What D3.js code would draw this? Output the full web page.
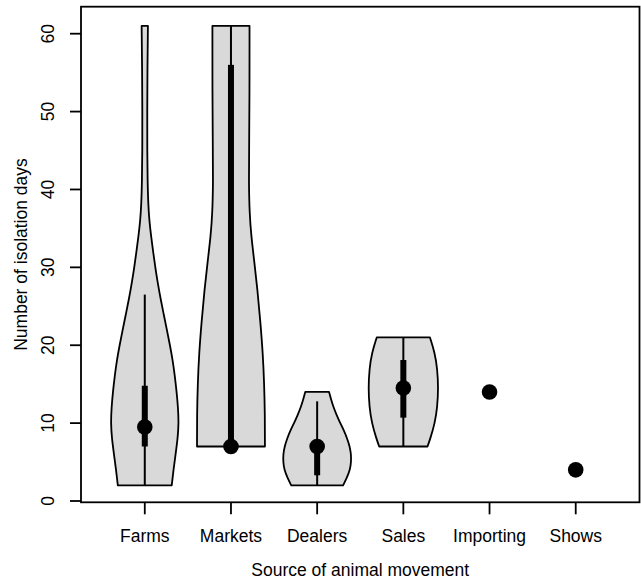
<!DOCTYPE html>
<html>
<head>
<meta charset="utf-8">
<script src="https://cdn.jsdelivr.net/npm/d3@7"></script>
<style>
  html, body { margin: 0; padding: 0; background: #fff; }
  svg text { font-family: "Liberation Sans", Arial, Helvetica, sans-serif; fill: #000; }
</style>
</head>
<body>
<svg id="chart" width="641" height="580"></svg>
<script>
// ---------------- data ----------------
const categories = ["Farms", "Markets", "Dealers", "Sales", "Importing", "Shows"];
const yTicks = [0, 10, 20, 30, 40, 50, 60];

// box-plot summaries per category (days)
const whiskerLow  = [2,    7,  2,    7,    14, 4];
const whiskerHigh = [26.5, 61, 12.8, 21,   14, 4];
const q1          = [7,    7,  3.3,  10.7, 14, 4];
const q3          = [14.8, 56, 7,    18.1, 14, 4];
const medians     = [9.5,  7,  7,    14.5, 14, 4];

// kernel density profiles (value in days, relative density 0..1)
const farmsDensity = [
  [2, 0.77], [4, 0.82], [6, 0.88], [8, 0.94], [10, 0.97], [12, 0.95], [14, 0.91],
  [16, 0.86], [18, 0.8], [20, 0.72], [22, 0.63], [24, 0.54], [26, 0.45],
  [28, 0.37], [30, 0.3], [32, 0.24], [34, 0.18], [36, 0.13], [38, 0.1],
  [41, 0.08], [45, 0.07], [50, 0.07], [55, 0.075], [61, 0.09]
];
const marketsDensity = [
  [7, 0.97], [11, 0.97], [15, 0.95], [19, 0.91], [23, 0.84], [27, 0.76],
  [31, 0.66], [34, 0.58], [37, 0.53], [41, 0.51], [46, 0.52], [52, 0.53], [61, 0.53]
];
const dealersDensity = [
  [2, 0.74], [3, 0.85], [4, 0.94], [5, 0.97], [6, 0.97], [7, 0.93], [8, 0.86], [9, 0.77],
  [10, 0.66], [11, 0.56], [12, 0.47], [13, 0.4], [14, 0.34]
];
const salesDensity = [
  [7, 0.69], [8, 0.77], [10, 0.9], [12, 0.97], [14.5, 1.0], [17, 0.97], [19, 0.9], [21, 0.76]
];
const importingDensity = [];
const showsDensity = [];
const densities = [farmsDensity, marketsDensity, dealersDensity, salesDensity, importingDensity, showsDensity];

// ---------------- layout ----------------
const svg = d3.select("#chart");
const box = { left: 81, right: 639.5, top: 6.7, bottom: 502.3 };
const fs = 17.5;

const x = d3.scaleLinear().domain([0.26, 6.74]).range([box.left, box.right]);
const y = d3.scaleLinear().domain([0, 60]).range([501, 33.7]);
const halfW = d3.scaleLinear().domain([0, 1]).range([0, 35]);

// violins
const area = d3.area().curve(d3.curveBasis);

densities.forEach((dens, i) => {
  if (!dens.length) return;
  const cx = x(i + 1);
  area.y(d => y(d[0]))
      .x0(d => cx - halfW(d[1]))
      .x1(d => cx + halfW(d[1]));
  svg.append("path")
    .attr("d", area(dens))
    .attr("fill", "#d9d9d9")
    .attr("stroke", "#000")
    .attr("stroke-width", 1.8)
    .attr("stroke-linejoin", "round");
});

// whiskers, boxes, medians
categories.forEach((c, i) => {
  const cx = x(i + 1);
  if (whiskerHigh[i] > whiskerLow[i]) {
    svg.append("line")
      .attr("x1", cx).attr("x2", cx)
      .attr("y1", y(whiskerLow[i])).attr("y2", y(whiskerHigh[i]))
      .attr("stroke", "#000").attr("stroke-width", 2);
  }
  if (q3[i] > q1[i]) {
    svg.append("rect")
      .attr("x", cx - 3).attr("width", 6)
      .attr("y", y(q3[i])).attr("height", y(q1[i]) - y(q3[i]))
      .attr("fill", "#000");
  }
  svg.append("circle")
    .attr("cx", cx).attr("cy", y(medians[i]))
    .attr("r", 7.8).attr("fill", "#000");
});

// frame
svg.append("rect")
  .attr("x", box.left).attr("y", box.top)
  .attr("width", box.right - box.left).attr("height", box.bottom - box.top)
  .attr("fill", "none").attr("stroke", "#000").attr("stroke-width", 1.8);

// y axis
const yAxisG = svg.append("g");
yTicks.forEach(t => {
  yAxisG.append("line")
    .attr("x1", box.left).attr("x2", box.left - 11)
    .attr("y1", y(t)).attr("y2", y(t))
    .attr("stroke", "#000").attr("stroke-width", 1.8);
  yAxisG.append("text")
    .attr("transform", `translate(54,${y(t)}) rotate(-90)`)
    .attr("text-anchor", "middle")
    .attr("font-size", fs)
    .text(t);
});

// x axis
categories.forEach((c, i) => {
  const cx = x(i + 1);
  svg.append("line")
    .attr("x1", cx).attr("x2", cx)
    .attr("y1", box.bottom).attr("y2", box.bottom + 12)
    .attr("stroke", "#000").attr("stroke-width", 1.8);
  svg.append("text")
    .attr("x", cx).attr("y", 542)
    .attr("text-anchor", "middle")
    .attr("font-size", fs)
    .text(c);
});

// axis titles
svg.append("text")
  .attr("x", (box.left + box.right) / 2).attr("y", 576)
  .attr("text-anchor", "middle")
  .attr("font-size", fs)
  .text("Source of animal movement");

svg.append("text")
  .attr("transform", `translate(27,${(box.top + box.bottom) / 2}) rotate(-90)`)
  .attr("text-anchor", "middle")
  .attr("font-size", fs)
  .text("Number of isolation days");
</script>
</body>
</html>
